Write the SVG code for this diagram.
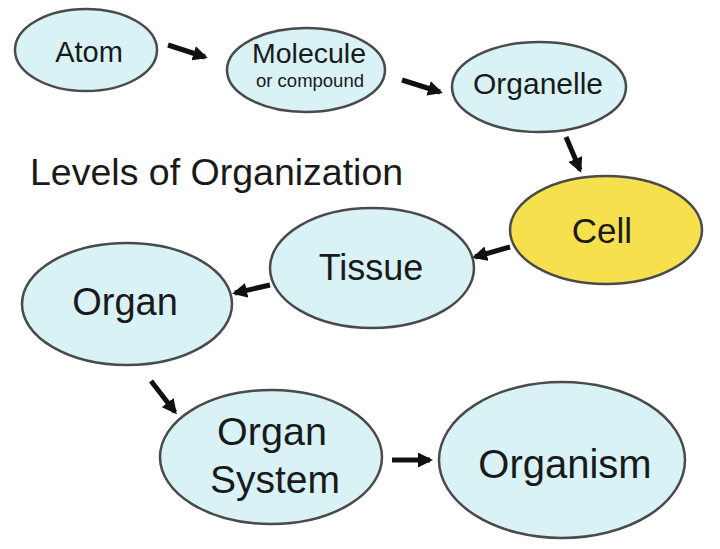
<svg xmlns="http://www.w3.org/2000/svg" width="720" height="549" viewBox="0 0 720 549">
<defs>
<style>
.n{fill:#d8f2f6;stroke:#4a4a4a;stroke-width:2.5}
.y{fill:#f7e04e;stroke:#4a4a4a;stroke-width:2.5}
text{font-family:"Liberation Sans",Arial,sans-serif;fill:#1a1a1a;text-anchor:middle}
.c line{stroke:#111;stroke-width:5}
</style>
<marker id="ah" viewBox="0 0 10 10" refX="8" refY="5" markerWidth="3" markerHeight="3" orient="auto" markerUnits="strokeWidth">
<path d="M0,0 L10,5 L0,10 z" fill="#111"/>
</marker>
</defs>
<rect width="720" height="549" fill="#fff"/>
<text x="30" y="185" style="text-anchor:start;font-size:37.5px">Levels of Organization</text>
<g id="atom"><ellipse class="n" cx="86" cy="50" rx="71" ry="41"/><text x="89" y="62" font-size="29">Atom</text></g>
<g id="molecule"><ellipse class="n" cx="306" cy="70" rx="79" ry="42"/><text x="309" y="63" font-size="28.5">Molecule</text><text x="310" y="87" font-size="18.5">or compound</text></g>
<g id="organelle"><ellipse class="n" cx="539" cy="87" rx="87" ry="45"/><text x="538" y="94" font-size="30">Organelle</text></g>
<g id="cell"><ellipse class="y" cx="606" cy="230" rx="96" ry="54"/><text x="602" y="243" font-size="35">Cell</text></g>
<g id="tissue"><ellipse class="n" cx="372" cy="268" rx="102" ry="60"/><text x="371" y="280" font-size="36">Tissue</text></g>
<g id="organ"><ellipse class="n" cx="127" cy="304" rx="105" ry="61"/><text x="125" y="315" font-size="38">Organ</text></g>
<g id="organsystem"><ellipse class="n" cx="271" cy="457" rx="111" ry="67"/><text x="272" y="445" font-size="39.5">Organ</text><text x="275" y="493" font-size="39">System</text></g>
<g id="organism"><ellipse class="n" cx="562" cy="460" rx="123" ry="78"/><text x="565" y="478" font-size="40">Organism</text></g>
<g class="c">
<line x1="168" y1="45" x2="205" y2="57" marker-end="url(#ah)"/>
<line x1="402" y1="80" x2="440" y2="92" marker-end="url(#ah)"/>
<line x1="566" y1="137" x2="580" y2="170" marker-end="url(#ah)"/>
<line x1="510" y1="247" x2="475" y2="257" marker-end="url(#ah)"/>
<line x1="270" y1="285" x2="235" y2="293" marker-end="url(#ah)"/>
<line x1="151" y1="381" x2="175" y2="412" marker-end="url(#ah)"/>
<line x1="392" y1="460" x2="430" y2="460" marker-end="url(#ah)"/>
</g>
</svg>
